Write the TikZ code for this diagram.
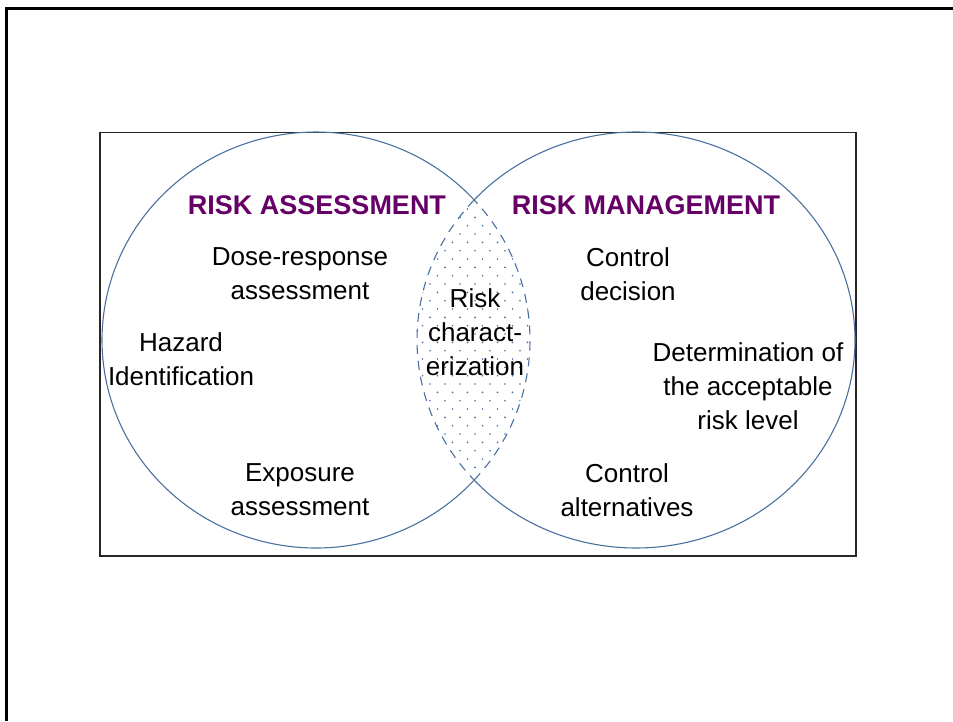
\documentclass[tikz,border=0pt]{standalone}
\usepackage{fontspec}
\setmainfont{Liberation Sans}
\usepackage{tikz}
\usepackage{xcolor}
\definecolor{ringblue}{RGB}{74,112,160}
\definecolor{titlepurple}{RGB}{102,0,102}

\begin{document}
\begin{tikzpicture}[x=1pt,y=-1pt]
      \useasboundingbox(0,0) rectangle (953,721);
      \tikzset{T/.style = {align=center, text=black, font={\fontsize{26}{34}\selectfont}}}
      \tikzset{H/.style = {text=titlepurple, font={\fontsize{27}{34}\selectfont\bfseries}}}
      \tikzset{ring/.style = {draw=ringblue, line width=1.1pt}}
      \tikzset{lens/.style = {draw=ringblue, line width=1.1pt, dash pattern=on 9pt off 7pt}}
      % frame and panel
      \draw[line width=3pt] (6,721) -- (6,8.2) -- (953,8.2);
      \draw[line width=1.5pt,black!85] (100,132.5) rectangle (856,556);
      \coordinate (cL) at (316,340);
      \coordinate (cR) at (636,340);
      % dots of the overlap
      \begin{scope}
        \clip (cL) ellipse [x radius=214pt, y radius=208pt];
        \clip (cR) ellipse [x radius=219pt, y radius=208pt];
        \foreach \n in {0,...,34} {
          \pgfmathsetmacro{\yy}{200.7+8.333*\n}
          \pgfmathsetmacro{\off}{mod(\n,2)*7.5}
          \foreach \k in {0,...,8} {
            \fill[ringblue] (415+\off+15*\k,\yy) circle (0.9pt);
          }
        }
      \end{scope}
      % the two rings
      \draw[ring] ([shift={(42.35:214pt and 208pt)}]cL) arc[start angle=42.35, end angle=317.65, x radius=214pt, y radius=208pt];
      \draw[lens] ([shift={(-42.35:214pt and 208pt)}]cL) arc[start angle=-42.35, end angle=42.35, x radius=214pt, y radius=208pt];
      \draw[ring] ([shift={(-137.65:219pt and 208pt)}]cR) arc[start angle=-137.65, end angle=137.65, x radius=219pt, y radius=208pt];
      \draw[lens] ([shift={(137.65:219pt and 208pt)}]cR) arc[start angle=137.65, end angle=222.35, x radius=219pt, y radius=208pt];
      % labels
      \node[H](ra) at (317,205) {RISK ASSESSMENT};
      \node[H](rm) at (646,205) {RISK MANAGEMENT};
      \node[T](dr) at (300,274) {Dose-response\\assessment};
      \node[T](hz) at (181,359) {Hazard\\Identification};
      \node[T](ex) at (300,490) {Exposure\\assessment};
      \node[T](rch) at (475,332) {Risk\\charact-\\erization};
      \node[T](cd) at (628,274) {Control\\decision};
      \node[T](da) at (748,386) {Determination of\\the acceptable\\risk level};
      \node[T](ca) at (627,490) {Control\\alternatives};
    \end{tikzpicture}
\end{document}
